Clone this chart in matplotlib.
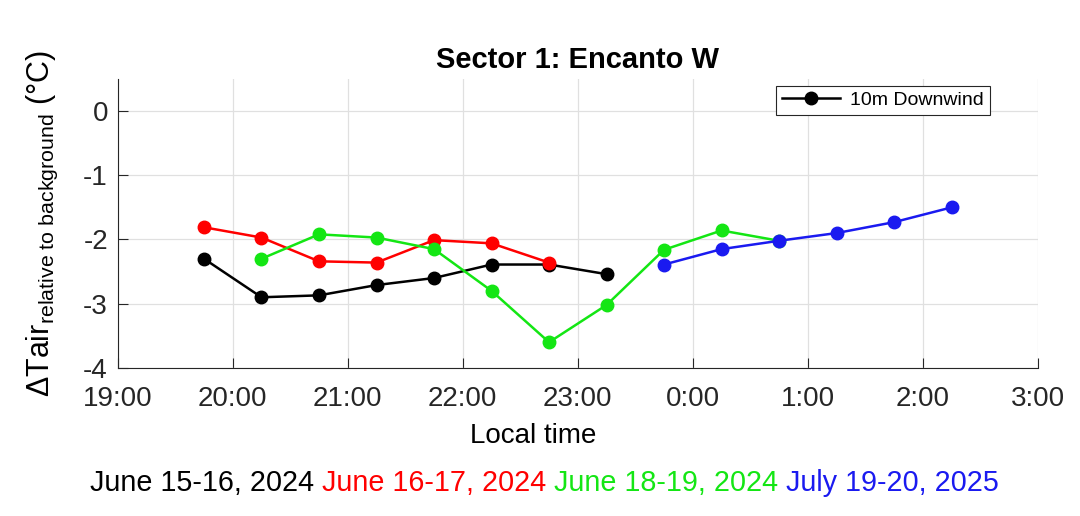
import matplotlib
matplotlib.use("Agg")
import matplotlib.pyplot as plt
from matplotlib.offsetbox import TextArea, HPacker, AnchoredOffsetbox

plt.rcParams['font.family'] = ['Liberation Sans', 'DejaVu Sans']
plt.rcParams['mathtext.fontset'] = 'custom'
plt.rcParams['mathtext.rm'] = 'Liberation Sans'
plt.rcParams['mathtext.it'] = 'Liberation Sans:italic'

# hours after midnight of the first day (24 = 0:00)
t_black = [19.75, 20.25, 20.75, 21.25, 21.75, 22.25, 22.75, 23.25]
v_black = [-2.30, -2.90, -2.87, -2.71, -2.60, -2.39, -2.39, -2.54]

t_red = [19.75, 20.25, 20.75, 21.25, 21.75, 22.25, 22.75]
v_red = [-1.81, -1.97, -2.34, -2.36, -2.01, -2.06, -2.36]

t_green = [20.25, 20.75, 21.25, 21.75, 22.25, 22.75, 23.25, 23.75, 24.25, 24.75]
v_green = [-2.30, -1.92, -1.97, -2.15, -2.80, -3.60, -3.02, -2.16, -1.86, -2.02]

t_blue = [23.75, 24.25, 24.75, 25.25, 25.75, 26.25]
v_blue = [-2.39, -2.15, -2.02, -1.90, -1.73, -1.50]

xticks = [19, 20, 21, 22, 23, 24, 25, 26, 27]
xticklabels = ['19:00', '20:00', '21:00', '22:00', '23:00', '0:00', '1:00', '2:00', '3:00']
yticks = [-4, -3, -2, -1, 0]

dates = ['June 15-16, 2024 ', 'June 16-17, 2024 ', 'June 18-19, 2024 ', 'July 19-20, 2025']
date_colors = ['black', '#ff0000', '#14e614', '#1a1af0']

fig = plt.figure(figsize=(10.8, 5.16), dpi=100)
ax = fig.add_axes([0.109, 0.287, 0.852, 0.560])

kw = dict(marker='o', markersize=9, linewidth=1.8)
ax.plot(t_black, v_black, color='black', label='10m Downwind', **kw)
ax.plot(t_red, v_red, color='#ff0000', **kw)
ax.plot(t_green, v_green, color='#14e614', **kw)
ax.plot(t_blue, v_blue, color='#1a1af0', **kw)

ax.set_xlim(19, 27)
ax.set_ylim(-4, 0.5)
ax.set_xticks(xticks)
ax.set_xticklabels(xticklabels)
ax.set_yticks(yticks)
ax.set_yticklabels([str(v) for v in yticks])
ax.tick_params(direction='in', length=7, labelsize=20, labelcolor='#262626', color='#262626')
ax.tick_params(axis='x', pad=13)
ax.tick_params(axis='y', pad=7)
ax.grid(True, color='#e0e0e0', linewidth=0.9)
ax.set_axisbelow(True)
for s in ['top', 'right']:
    ax.spines[s].set_visible(False)
for s in ['left', 'bottom']:
    ax.spines[s].set_color('#262626')

ax.set_title('Sector 1: Encanto W', fontsize=21, fontweight='bold', pad=8)
ax.set_xlabel('Local time', fontsize=20)
ax.xaxis.set_label_coords(0.452, -0.19)
ax.set_ylabel(r'$\Delta$Tair$_{\mathrm{relative\ to\ background}}$ (°C)', fontsize=22)
ax.yaxis.set_label_coords(-0.063, 0.5)

leg = ax.legend(loc='upper right', bbox_to_anchor=(0.958, 1.01), fontsize=14, fancybox=False,
                edgecolor='#262626', framealpha=1, handlelength=3.0, borderpad=0.3,
                handletextpad=0.5)
leg.get_frame().set_linewidth(0.8)

boxes = [TextArea(d, textprops=dict(color=c, fontsize=20.7))
         for d, c in zip(dates, date_colors)]
pack = HPacker(children=boxes, pad=0, sep=0, align='baseline')
anch = AnchoredOffsetbox(loc='center', child=pack, frameon=False,
                         bbox_to_anchor=(0.504, 0.064), bbox_transform=fig.transFigure, pad=0, borderpad=0)
fig.add_artist(anch)

fig.savefig('out.png', dpi=100)
